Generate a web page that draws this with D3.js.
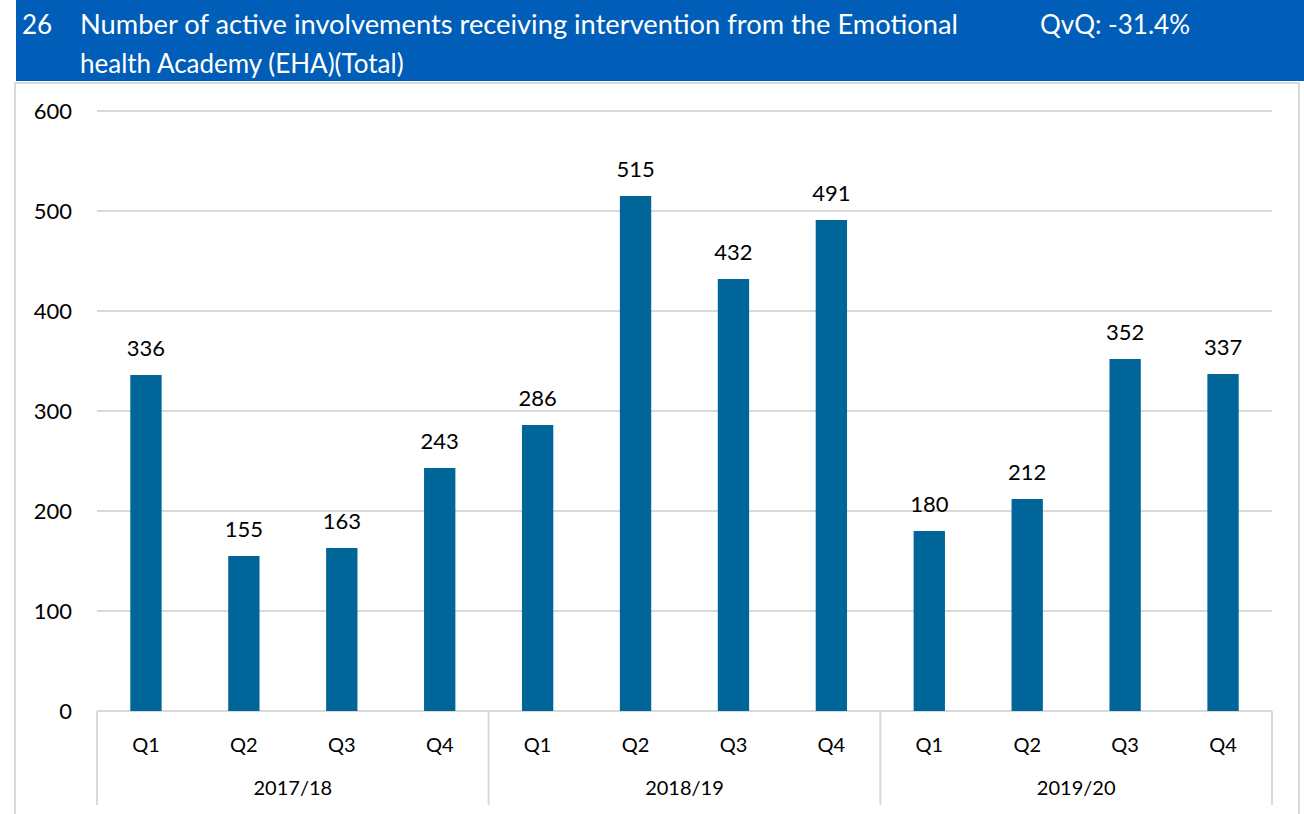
<!DOCTYPE html>
<html>
<head>
<meta charset="utf-8">
<script src="https://cdn.jsdelivr.net/npm/d3@7"></script>
<style>
  body { margin: 0; background: #fff; }
  svg { display: block; font-family: Lato, 'Open Sans', sans-serif; }
</style>
</head>
<body>
<div class="chart"></div>
<script>
const width = 1304
const height = 814

// data
const years = ['2017/18', '2018/19', '2019/20']
const quarters = ['Q1', 'Q2', 'Q3', 'Q4']
const values = [336, 155, 163, 243, 286, 515, 432, 491, 180, 212, 352, 337]
const yTicks = [0, 100, 200, 300, 400, 500, 600]

const titleNum = '26'
const titleLines = ['Number of active involvements receiving intervention from the Emotional', 'health Academy (EHA)(Total)']
const qvq = 'QvQ: -31.4%'

const theme = {
  header: '#005EB8',
  bar: '#006699',
  grid: '#d9d9d9',
  text: '#000'
}

const margin = { left: 97, right: 1272, top: 111, bottom: 711 }

const cats = []
years.forEach(y => quarters.forEach(q => cats.push({ year: y, q: q, key: y + '|' + q })))
cats.forEach((c, i) => { c.value = values[i] })

const svg = d3.select('.chart').append('svg')
  .attr('width', width)
  .attr('height', height)

// header
svg.append('rect')
  .attr('x', 16).attr('y', 0)
  .attr('width', width - 16).attr('height', 81)
  .attr('fill', theme.header)

svg.append('text')
  .attr('x', 22).attr('y', 34)
  .attr('fill', '#fff').attr('font-size', 26)
  .text(titleNum)

svg.selectAll('.title-line')
  .data(titleLines)
  .enter().append('text')
  .attr('class', 'title-line')
  .attr('x', 80)
  .attr('y', (d, i) => 34 + i * 39)
  .attr('fill', '#fff').attr('font-size', 26)
  .attr('textLength', (d, i) => i === 0 ? 878 : null)
  .attr('lengthAdjust', 'spacingAndGlyphs')
  .text(d => d)

svg.append('text')
  .attr('x', 1040).attr('y', 34)
  .attr('fill', '#fff').attr('font-size', 26)
  .text(qvq)

// chart frame
svg.append('path')
  .attr('d', `M15,${height} V83 H1299 V${height}`)
  .attr('fill', 'none')
  .attr('stroke', theme.grid)
  .attr('stroke-width', 2)

const x = d3.scaleBand()
  .domain(cats.map(c => c.key))
  .range([margin.left, margin.right])
  .paddingInner(0.68)
  .paddingOuter(0.34)

const y = d3.scaleLinear()
  .domain([0, 600])
  .range([margin.bottom, margin.top])

// grid
svg.append('g')
  .selectAll('line')
  .data(yTicks)
  .enter().append('line')
  .attr('x1', margin.left).attr('x2', margin.right)
  .attr('y1', d => y(d)).attr('y2', d => y(d))
  .attr('stroke', theme.grid)
  .attr('stroke-width', 2)

// y labels
svg.append('g')
  .selectAll('text')
  .data(yTicks)
  .enter().append('text')
  .attr('x', 72)
  .attr('y', d => y(d) + 8)
  .attr('text-anchor', 'end')
  .attr('font-size', 22)
  .attr('fill', theme.text)
  .text(d => d)

// bars
svg.append('g')
  .selectAll('rect')
  .data(cats)
  .enter().append('rect')
  .attr('x', d => x(d.key))
  .attr('y', d => y(d.value))
  .attr('width', x.bandwidth())
  .attr('height', d => y(0) - y(d.value))
  .attr('fill', theme.bar)

// value labels
svg.append('g')
  .selectAll('text')
  .data(cats)
  .enter().append('text')
  .attr('x', d => x(d.key) + x.bandwidth() / 2)
  .attr('y', d => y(d.value) - 19)
  .attr('text-anchor', 'middle')
  .attr('font-size', 22)
  .attr('fill', theme.text)
  .text(d => d.value)

// category axis
const step = x.step()
const groupEdges = d3.range(years.length + 1).map(i => margin.left + i * step * quarters.length)

svg.append('g')
  .selectAll('line')
  .data(groupEdges)
  .enter().append('line')
  .attr('x1', d => d).attr('x2', d => d)
  .attr('y1', y(0)).attr('y2', 805)
  .attr('stroke', theme.grid)
  .attr('stroke-width', 2)

svg.append('g')
  .selectAll('text')
  .data(cats)
  .enter().append('text')
  .attr('x', d => x(d.key) + x.bandwidth() / 2)
  .attr('y', 752)
  .attr('text-anchor', 'middle')
  .attr('font-size', 20)
  .attr('fill', theme.text)
  .text(d => d.q)

svg.append('g')
  .selectAll('text')
  .data(years)
  .enter().append('text')
  .attr('x', (d, i) => (groupEdges[i] + groupEdges[i + 1]) / 2)
  .attr('y', 795)
  .attr('text-anchor', 'middle')
  .attr('font-size', 20)
  .attr('fill', theme.text)
  .text(d => d)
</script>
</body>
</html>
